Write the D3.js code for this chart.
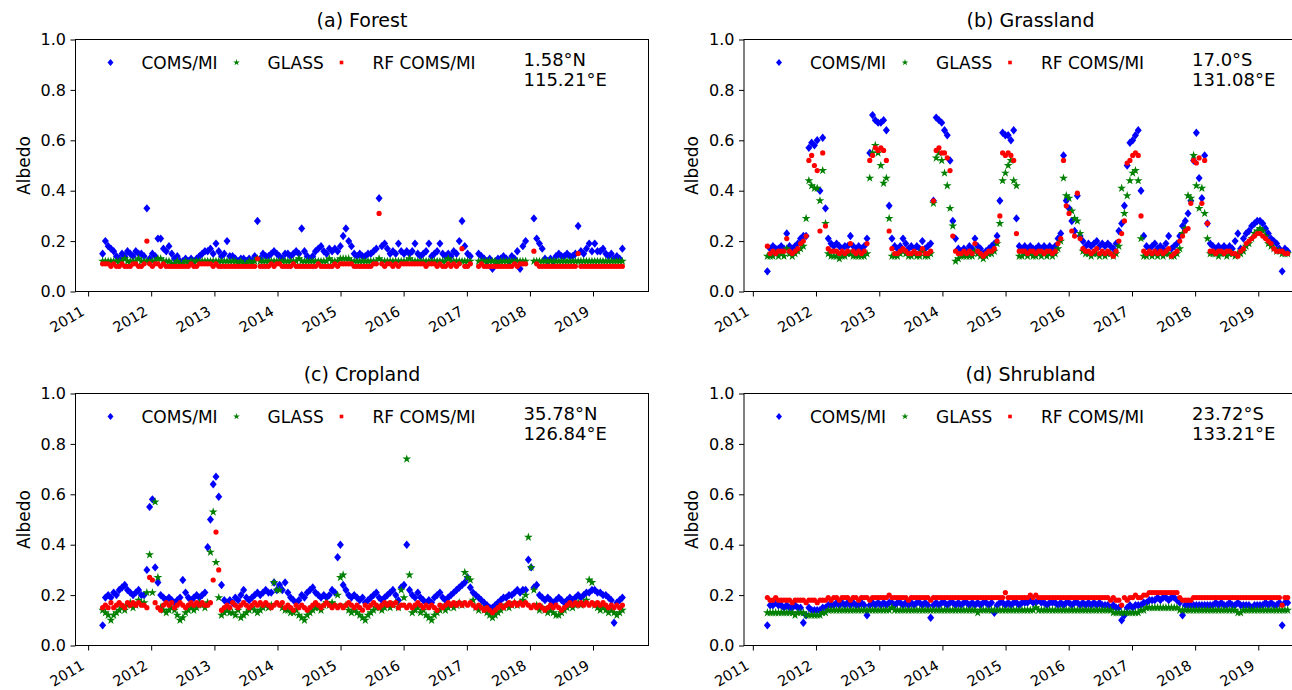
<!DOCTYPE html>
<html lang="en">
<head>
<meta charset="utf-8">
<title>Surface albedo time series</title>
<style>
  body { margin: 0; background: #fff; }
  svg { display: block; font-family: "DejaVu Sans", sans-serif; }
  .axis text { font-size: 16px; fill: #000; }
  .xaxis text { font-size: 14.5px; }
  .axis line { stroke: #000; }
  .title { font-size: 19px; }
  .ylab { font-size: 17px; }
  .legend text { font-size: 17px; }
  .coord { font-size: 18px; }
</style>
</head>
<body>
<svg width="1292" height="690"></svg>
<script src="https://d3js.org/d3.v7.min.js"></script>
<script>
// Albedo x100, one value per 16-day step starting 26 Mar 2011.
// One line per calendar year, "-" where there was no retrieval.
const firstDay = new Date(2011, 2, 26);
const stepDays = 16;

const titles = ["(a) Forest", "(b) Grassland", "(c) Cropland", "(d) Shrubland"];
const coords = [["1.58°N", "115.21°E"], ["17.0°S", "131.08°E"], ["35.78°N", "126.84°E"], ["23.72°S", "133.21°E"]];
const seriesNames = ["COMS/MI", "GLASS", "RF COMS/MI"];
const yTicks = [0, 0.2, 0.4, 0.6, 0.8, 1.0];

const forestComs = `
15 20 18 17 16 14 13 15 14 16 15 14 16 15 15 14 33 13
15 14 21 21 17 16 18 15 13 14 12 12 13 12 13 12 13 14 15 16 16 17 15
19 16 14 15 20 14 14 13 12 13 13 12 13 12 14 28 13 15 14 14 15 16 15
14 13 15 15 14 15 16 15 25 16 14 13 14 16 17 18 16 15 17 16 17 16 18
22 25 20 18 15 14 15 14 14 15 15 16 17 37 18 19 17 15 16 15 19 16
15 16 15 16 19 15 14 15 16 19 14 15 16 19 15 14 15 14 16 15 20 28 18
15 14 - - 15 14 13 12 13 9 12 13 13 14 13 12 14 13 16 9 18 20 -
- 29 21 19 17 13 12 13 12 14 15 14 14 15 14 14 15 26 16 15 17 19 16
19 16 16 17 15 14 15 13 14 13 17`;
const forestGlass = `
12 12 12 12 12 12 12 12 13 12 12 12 12 13 12 12 12 12
12 12 13 13 12 12 12 11 11 12 11 11 12 11 12 12 12 12 12 12 12 12 12
12 12 12 12 12 12 12 12 11 12 11 11 12 11 12 13 12 12 12 12 12 12 12
12 12 12 12 12 12 12 13 12 12 12 12 12 12 12 12 12 12 13 12 12 12 13
13 13 13 12 12 12 12 12 12 12 12 12 12 13 12 12 12 12 12 12 12 12
12 12 13 12 12 12 12 12 12 12 12 12 12 12 12 12 13 12 12 12 12 12 12
12 12 - - 12 12 12 12 12 12 12 11 12 12 12 12 12 12 12 12 12 12 -
- 12 12 12 12 12 12 12 12 12 12 12 12 12 12 12 12 12 12 12 12 12 12
12 12 12 12 12 12 12 12 12 12 12`;
const forestRf = `
11 11 11 10 11 10 10 11 10 10 10 11 11 10 10 11 20 11
10 11 11 10 11 10 10 10 10 10 10 10 10 10 11 10 10 11 11 11 11 11 10
11 10 10 10 10 10 10 10 10 10 10 10 10 10 10 13 10 10 10 10 11 10 11
11 10 10 10 10 11 10 10 10 10 10 10 10 10 11 10 10 10 10 10 11 10 11
11 11 11 11 10 10 10 10 10 10 10 11 11 31 11 10 11 11 10 11 10 11
11 11 11 11 11 11 11 11 10 11 11 11 10 11 10 10 11 10 11 10 11 17 10
10 11 - - 10 11 10 10 10 10 10 10 10 10 10 10 10 11 10 11 11 11 -
- 16 11 10 10 10 10 10 10 10 10 10 10 10 10 10 10 15 10 10 10 10 10
10 10 10 10 10 10 10 10 10 10 10`;

const grassComs = `
8 17 18 17 17 18 17 23 18 17 18 19 21 22 22 57 59 58
60 40 61 33 21 19 18 19 18 17 18 18 22 18 17 18 17 18 21 55 70 68 67
67 68 64 34 21 18 17 18 21 19 17 18 17 18 17 20 17 18 19 36 69 68 67
64 62 52 28 21 17 16 17 16 18 17 21 18 17 15 16 17 18 19 22 36 63 62
62 60 64 29 18 17 18 17 18 17 17 18 17 18 17 18 17 18 21 23 54 36
33 28 24 38 22 20 18 19 18 19 20 18 19 18 19 18 17 19 24 27 34 50 59
60 62 64 40 22 18 17 18 19 17 18 17 19 22 17 18 19 22 26 28 31 36 52
63 45 37 54 27 19 18 17 18 17 18 17 18 17 20 23 17 21 23 24 26 27 28
28 27 25 23 21 20 19 17 8 17 16`;
const grassGlass = `
14 14 14 15 14 15 14 17 15 14 15 16 17 18 29 44 42 41
41 36 48 27 15 14 14 14 13 14 14 15 15 14 14 14 14 14 15 45 55 58 55
50 43 45 29 14 14 14 15 16 15 14 14 15 14 14 16 14 14 15 35 53 55 52
47 42 33 26 12 13 14 14 14 14 14 16 15 14 13 14 15 15 16 19 27 44 47
50 52 44 42 14 14 15 14 15 14 14 15 14 15 14 15 14 15 17 20 45 38
37 32 29 28 23 16 15 15 14 15 15 14 15 14 15 15 14 15 18 41 31 38 44
47 48 44 21 14 14 15 14 15 14 15 14 15 15 14 14 15 17 23 25 38 37 54
42 33 41 31 21 15 15 15 14 15 15 14 15 15 14 15 15 16 18 19 21 23 24
25 24 22 19 18 17 16 16 15 15 15`;
const grassRf = `
18 15 16 15 16 16 16 21 16 15 16 17 19 20 22 52 54 50
48 24 55 26 17 16 16 16 15 16 15 16 19 16 15 16 15 16 19 52 54 57 56
57 56 52 24 17 15 15 16 17 16 15 15 16 15 15 17 15 15 16 36 56 57 55
55 53 48 22 16 15 15 16 15 16 15 19 16 15 14 15 16 16 17 20 30 55 54
55 54 52 23 16 16 16 15 16 16 15 16 16 15 16 16 15 16 19 21 52 34
31 24 22 39 21 17 16 16 15 16 17 15 16 15 16 15 14 16 20 23 28 51 52
54 55 54 30 16 15 16 15 16 15 16 15 16 17 14 15 16 20 22 24 25 35 52
51 53 35 52 27 16 16 15 16 16 15 16 16 15 15 14 16 17 19 20 21 22 23
23 22 21 20 19 17 16 16 16 15 15`;

const cropComs = `
8 19 20 19 21 20 22 23 24 22 21 20 21 22 20 20 30 55
58 31 25 20 19 18 19 18 17 18 19 26 21 19 18 19 20 19 20 21 39 50 64
67 59 24 18 17 18 17 19 18 20 22 19 18 19 20 21 20 21 22 21 21 25 22
24 22 25 21 19 18 17 18 20 19 21 22 23 21 20 19 20 19 20 22 21 35 40
24 22 20 19 20 19 18 19 17 18 19 20 21 19 18 19 20 21 22 20 18 23
24 40 22 20 19 21 19 18 17 18 17 19 20 21 19 18 19 20 21 22 23 24 25
27 23 21 20 19 18 17 16 15 15 16 17 18 19 19 20 20 21 22 21 22 22 34
31 23 24 20 19 18 19 18 17 18 19 18 17 18 19 18 19 20 19 20 21 21 22
22 21 21 20 20 19 18 9 17 18 19`;
const cropGlass = `
14 13 12 10 12 13 14 15 14 16 17 15 16 18 17 17 21 36
21 57 27 15 14 13 14 15 14 12 10 11 13 14 15 14 15 17 16 15 17 37 53
33 19 12 13 14 13 13 12 14 11 12 13 14 15 14 13 14 15 16 15 16 25 22
22 15 14 14 13 13 14 12 11 10 12 13 14 15 15 14 16 17 16 17 16 20 27
28 16 14 13 14 13 12 11 10 12 13 14 15 15 14 15 16 15 16 17 15 22
19 74 28 13 14 15 13 14 12 11 10 12 13 14 15 14 15 16 15 16 17 16 29
27 26 18 15 14 15 14 13 12 11 12 13 14 15 16 15 16 17 16 17 18 20 43
31 22 16 14 15 14 13 14 13 12 12 13 14 15 16 15 16 17 16 17 18 26 25
16 15 14 15 14 13 14 13 12 13 14`;
const cropRf = `
15 16 15 17 15 16 17 16 15 17 16 17 16 17 16 16 15 27
26 17 15 14 16 17 16 17 15 16 17 16 15 16 17 16 17 16 17 16 16 17 26
45 30 14 15 16 15 17 16 15 16 17 16 15 16 17 16 17 16 17 16 15 16 17
16 17 15 16 15 14 16 15 16 15 14 15 16 17 16 15 16 17 16 15 16 15 16
15 16 17 16 15 16 15 14 16 15 16 17 16 15 16 17 16 17 16 17 15 16
16 15 16 15 16 17 16 15 16 15 16 15 14 16 15 16 17 16 17 16 17 16 17
16 17 16 15 16 15 14 15 14 13 14 15 16 15 16 17 16 17 16 17 16 17 16
15 16 15 16 15 14 15 16 15 16 15 14 15 16 17 16 17 16 17 16 17 16 17
16 17 16 17 16 15 16 15 16 15 16`;

const shrubComs = `
8 16 16 17 16 16 15 16 15 15 16 15 15 9 12 15 14 14
14 14 15 15 16 16 16 17 16 17 16 17 16 17 16 16 17 16 12 16 17 16 17
16 17 16 17 17 16 17 17 16 17 16 17 16 17 17 16 17 16 11 16 17 16 17
17 16 17 17 16 17 16 17 17 16 17 16 17 16 17 17 16 17 13 16 17 17 16
17 16 17 17 16 17 17 17 18 17 17 18 17 17 16 17 17 17 16 17 16 17
17 16 17 17 16 17 16 17 16 17 16 17 16 16 16 15 16 15 15 10 12 15 16
15 16 16 16 17 17 18 18 18 19 18 19 19 18 19 19 18 17 12 16 16 16 16
16 16 16 16 16 16 16 17 16 17 16 16 17 16 16 17 16 16 16 16 15 16 16
16 16 17 16 17 16 16 17 8 17 17`;
const shrubGlass = `
13 13 13 13 13 13 13 13 13 13 12 13 13 13 12 12 12 12
12 12 13 13 14 14 14 14 14 14 14 14 14 14 14 14 14 14 14 14 14 14 14
14 14 14 14 15 14 14 14 14 14 14 14 14 14 14 14 14 14 14 14 14 14 14
14 14 14 14 14 14 14 14 14 14 14 14 13 14 14 14 14 14 14 14 14 14 14
14 14 14 14 14 14 14 14 14 14 15 14 14 14 14 14 14 14 14 14 14 14
14 14 14 14 14 14 14 14 14 14 14 14 14 14 14 14 13 13 13 13 13 13 13
13 13 13 14 14 15 15 15 15 15 15 15 15 15 15 15 15 14 14 14 14 14 14
14 14 14 14 14 14 14 14 14 14 14 14 14 14 14 13 13 14 14 14 14 14 14
14 14 14 14 14 14 14 14 14 14 14`;
const shrubRf = `
19 18 18 19 18 18 18 18 18 17 18 18 18 18 17 18 18 18
17 18 18 18 19 18 19 19 18 19 19 19 18 19 19 18 19 19 19 18 19 19 19
19 19 19 20 19 19 19 19 19 19 18 19 19 19 19 19 19 19 18 19 19 19 19
19 19 19 19 19 19 19 19 19 19 19 19 19 19 19 19 19 19 19 19 19 19 21
19 19 19 19 19 19 19 19 20 19 20 19 19 19 19 19 19 19 19 19 19 19
19 19 19 19 19 19 19 19 19 19 19 19 19 19 19 18 19 18 18 16 19 18 19
19 20 19 19 20 20 21 21 21 21 21 21 21 21 21 21 21 19 18 18 18 18 19
19 19 19 19 19 19 19 19 19 19 19 19 19 19 19 19 19 19 19 19 19 19 19
19 19 19 19 19 19 19 19 16 19 19`;

const panelSeries = [
  [forestComs, forestGlass, forestRf],
  [grassComs, grassGlass, grassRf],
  [cropComs, cropGlass, cropRf],
  [shrubComs, shrubGlass, shrubRf]
];

function parseSeries(text) {
  return text.trim().split(/\s+/).map(v => v === "-" ? null : +v / 100);
}

function yearToDate(y) {
  const yr = Math.floor(y);
  const a = new Date(yr, 0, 1), b = new Date(yr + 1, 0, 1);
  return new Date(+a + (y - yr) * (b - a));
}

const svg = d3.select("svg");
const pw = 573, ph = 252;
const cols = [
  { left: 75.5, xlim: [2010.80, 2019.88] },
  { left: 744, xlim: [2010.86, 2019.93] }
];
const rows = [39.5, 393.5];

const colors = ["#0000ff", "#008000", "#ff0000"];
const diamond = "M0,-4.2L3.5,0L0,4.2L-3.5,0Z";
const star = d3.symbol(d3.symbolStar, 24)();
const dotR = 2.6;

function drawMarker(sel, k) {
  if (k === 0) sel.append("path").attr("d", "M0,-3.6L3,0L0,3.6L-3,0Z").attr("fill", colors[0]);
  else if (k === 1) sel.append("path").attr("d", d3.symbol(d3.symbolStar, 14)()).attr("fill", colors[1]);
  else sel.append("rect").attr("x", -1.8).attr("y", -1.8).attr("width", 3.6).attr("height", 3.6).attr("fill", colors[2]);
}

panelSeries.forEach((texts, p) => {
  const col = cols[p % 2];
  const top = rows[Math.floor(p / 2)];
  const g = svg.append("g").attr("transform", `translate(${col.left},${top})`);

  const x = d3.scaleTime().domain(col.xlim.map(yearToDate)).range([0, pw]);
  const y = d3.scaleLinear().domain([0, 1]).range([ph, 0]);

  g.append("rect")
    .attr("width", pw).attr("height", ph)
    .attr("fill", "none").attr("stroke", "#000").attr("stroke-width", 1);

  const xAxis = g.append("g").attr("class", "axis xaxis")
    .attr("transform", `translate(0,${ph})`)
    .call(d3.axisBottom(x).ticks(d3.timeYear.every(1))
      .tickFormat(d3.timeFormat("%Y")).tickSize(5).tickSizeOuter(0));
  xAxis.attr("font-size", null).attr("font-family", null);
  xAxis.select(".domain").remove();
  xAxis.selectAll("text")
    .attr("y", null).attr("dy", null)
    .attr("text-anchor", "end")
    .attr("transform", "translate(-3,23) rotate(-30)");

  const yAxis = g.append("g").attr("class", "axis")
    .call(d3.axisLeft(y).tickValues(yTicks)
      .tickFormat(d3.format(".1f")).tickSize(5).tickSizeOuter(0));
  yAxis.attr("font-size", null).attr("font-family", null);
  yAxis.select(".domain").remove();
  yAxis.selectAll("text").attr("x", -9.5);

  g.append("text").attr("class", "ylab")
    .attr("transform", `translate(-46,${ph / 2}) rotate(-90)`)
    .attr("text-anchor", "middle")
    .text("Albedo");

  g.append("text").attr("class", "title")
    .attr("x", pw / 2).attr("y", -12.5)
    .attr("text-anchor", "middle")
    .text(titles[p]);

  // scatter, drawn in legend order so RF ends on top
  texts.forEach((txt, k) => {
    const vals = parseSeries(txt);
    const pts = vals.map((v, i) => ({ date: d3.timeDay.offset(firstDay, i * stepDays), v }))
      .filter(d => d.v !== null);
    const layer = g.append("g");
    if (k === 2) {
      layer.selectAll("circle").data(pts).join("circle")
        .attr("cx", d => x(d.date)).attr("cy", d => y(d.v))
        .attr("r", dotR).attr("fill", colors[2]);
    } else {
      layer.selectAll("path").data(pts).join("path")
        .attr("d", k === 0 ? diamond : star)
        .attr("transform", d => `translate(${x(d.date)},${y(d.v)})`)
        .attr("fill", colors[k]);
    }
  });

  // legend
  const legend = g.append("g").attr("class", "legend").attr("transform", "translate(0,23)");
  const markerX = [35, 161, 266];
  seriesNames.forEach((name, k) => {
    const m = legend.append("g").attr("transform", `translate(${markerX[k]},0)`);
    drawMarker(m, k);
    legend.append("text").attr("x", markerX[k] + 31).attr("y", 6).text(name);
  });

  g.append("text").attr("class", "coord").attr("x", 448).attr("y", 26).text(coords[p][0]);
  g.append("text").attr("class", "coord").attr("x", 448).attr("y", 46.5).text(coords[p][1]);
});
</script>
</body>
</html>
